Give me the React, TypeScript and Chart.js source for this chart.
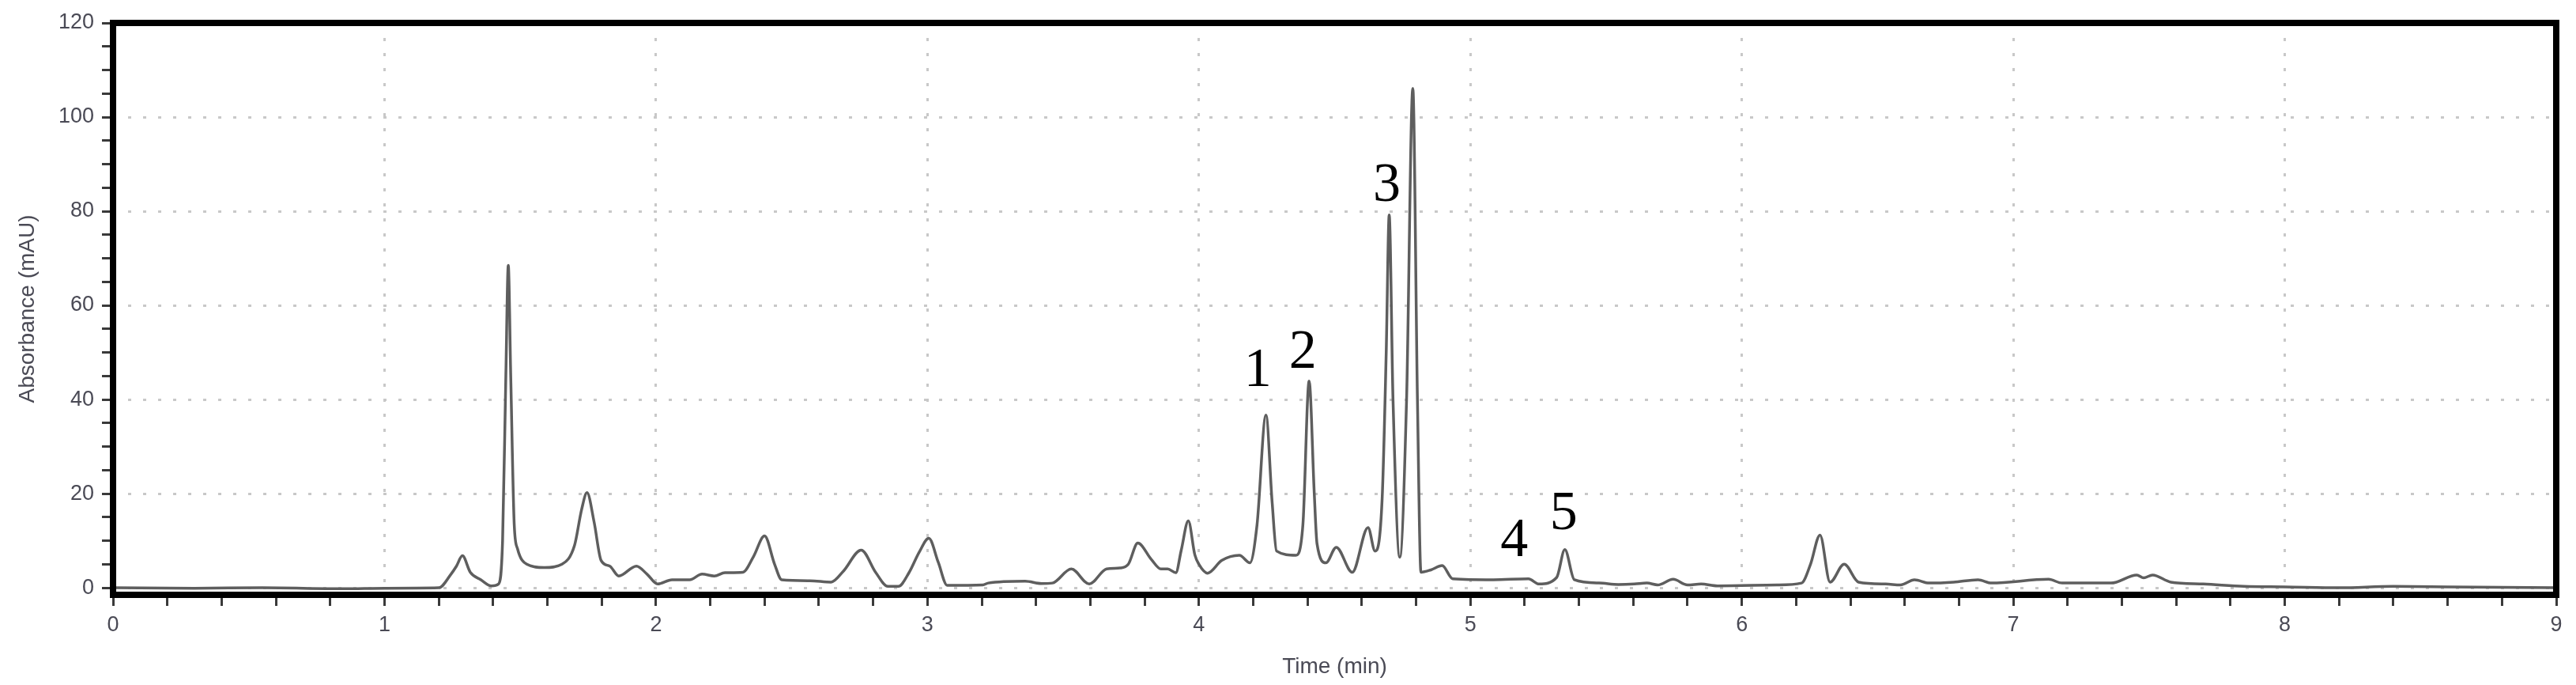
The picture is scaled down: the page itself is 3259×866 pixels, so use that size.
import React, { useEffect, useRef } from "react";
import { Chart, registerables } from "chart.js";

Chart.register(...registerables);

// Retention time (min)
const times = [
  0.0, 0.3, 0.55, 0.85, 1.0, 1.2, 1.245, 1.265, 1.287, 1.316, 1.355, 1.394, 1.42,
  1.435, 1.447, 1.456, 1.465, 1.478, 1.49, 1.524, 1.589, 1.654, 1.7, 1.726, 1.746,
  1.772, 1.798, 1.83, 1.863, 1.928, 1.967, 2.006, 2.059, 2.124, 2.17, 2.215, 2.254,
  2.32, 2.359, 2.4, 2.437, 2.463, 2.567, 2.645, 2.69, 2.756, 2.81, 2.854, 2.893,
  2.932, 2.97, 3.005, 3.04, 3.073, 3.204, 3.224, 3.36, 3.42, 3.46, 3.53, 3.596,
  3.66, 3.71, 3.74, 3.775, 3.825, 3.86, 3.885, 3.915, 3.935, 3.961, 3.985, 4.0,
  4.032, 4.084, 4.149, 4.188, 4.214, 4.247, 4.27, 4.286, 4.357, 4.383, 4.406, 4.425,
  4.435, 4.468, 4.506, 4.565, 4.623, 4.649, 4.675, 4.69, 4.701, 4.715, 4.74, 4.765,
  4.788, 4.805, 4.818, 4.855, 4.896, 4.935, 5.084, 5.214, 5.253, 5.318, 5.348, 5.383,
  5.474, 5.545, 5.604, 5.65, 5.69, 5.747, 5.8, 5.85, 5.91, 6.13, 6.22, 6.253, 6.288,
  6.325, 6.377, 6.43, 6.53, 6.584, 6.636, 6.69, 6.78, 6.87, 6.92, 7.13, 7.18, 7.36,
  7.455, 7.48, 7.513, 7.58, 7.7, 7.85, 8.0, 8.2, 8.4, 8.6, 8.8, 9.0,
];

// Absorbance (mAU)
const absorbance = [
  0.0, -0.1, 0.0, -0.2, -0.1, 0.0, 2.9, 4.6, 6.8, 3.3, 1.7, 0.4, 0.8,
  10, 45, 68.5, 45, 13.3, 8.3, 5.0, 4.3, 5.0, 9.0, 16.6, 20.2,
  14.0, 5.8, 4.6, 2.5, 4.6, 2.9, 0.8, 1.7, 1.7, 2.9, 2.5, 3.2,
  3.3, 6.6, 11.0, 5.0, 1.7, 1.5, 1.2, 3.5, 8.0, 3.2, 0.3, 0.3,
  3.2, 7.6, 10.5, 5.4, 0.5, 0.6, 1.0, 1.4, 0.9, 1.0, 4.0, 0.8,
  4.0, 4.2, 5.0, 9.5, 6.0, 4.0, 4.0, 3.2, 8.0, 14.2, 7.0, 5.0,
  3.1, 5.8, 6.9, 5.3, 13.3, 36.7, 18.0, 7.8, 6.9, 13.3, 43.9, 20.0,
  9.4, 5.3, 8.6, 3.3, 12.8, 7.8, 18.9, 50.0, 79.2, 40.0, 6.5, 40.0,
  106.1, 40.0, 3.3, 3.8, 4.7, 1.9, 1.7, 1.9, 0.8, 2.2, 8.1, 1.7,
  1.0, 0.7, 0.8, 1.0, 0.6, 1.8, 0.6, 0.8, 0.4, 0.6, 1.0, 5.0, 11.2,
  1.2, 5.0, 1.2, 0.8, 0.6, 1.7, 1.0, 1.2, 1.7, 1.0, 1.8, 1.0, 1.0,
  2.7, 2.1, 2.7, 1.2, 0.8, 0.3, 0.2, 0.0, 0.3, 0.2, 0.1, 0.0,
];

// Axis ticks
const xMajorTicks = [0, 1, 2, 3, 4, 5, 6, 7, 8, 9];
const xMinorPerMajor = 5; // ticks every 0.2 min
const yMajorTicks = [0, 20, 40, 60, 80, 100, 120];
const yMinorPerMajor = 4; // ticks every 5 mAU

// Peak labels
const peakLabels = ["1", "2", "3", "4", "5"];
const peakLabelTimes = [4.217, 4.383, 4.692, 5.162, 5.344];
const peakLabelValues = [42.8, 46.7, 82.2, 6.7, 12.5];

const xAxisTitle = "Time (min)";
const yAxisTitle = "Absorbance (mAU)";

function withMinor(majors: number[], per: number): number[] {
  const out: number[] = [];
  for (let i = 0; i < majors.length; i++) {
    out.push(majors[i]);
    if (i < majors.length - 1) {
      const step = (majors[i + 1] - majors[i]) / per;
      for (let k = 1; k < per; k++) out.push(Math.round((majors[i] + k * step) * 1000) / 1000);
    }
  }
  return out;
}

const xTicks = withMinor(xMajorTicks, xMinorPerMajor);
const yTicks = withMinor(yMajorTicks, yMinorPerMajor);
const isMajorX = (v: number) => xMajorTicks.some((m) => Math.abs(m - v) < 1e-6);
const isMajorY = (v: number) => yMajorTicks.some((m) => Math.abs(m - v) < 1e-6);

const framePlugin = {
  id: "frame",
  afterDraw(chart: any) {
    const { ctx, chartArea } = chart;
    ctx.save();
    ctx.strokeStyle = "#000";
    ctx.lineWidth = 8;
    ctx.strokeRect(chartArea.left, chartArea.top, chartArea.right - chartArea.left, chartArea.bottom - chartArea.top);
    ctx.restore();
  },
};

const peakLabelPlugin = {
  id: "peakLabels",
  afterDatasetsDraw(chart: any) {
    const { ctx, scales } = chart;
    ctx.save();
    ctx.fillStyle = "#000";
    ctx.font = '70px "Liberation Serif", "Times New Roman", serif';
    ctx.textAlign = "center";
    ctx.textBaseline = "alphabetic";
    peakLabels.forEach((label, i) => {
      const x = scales.x.getPixelForValue(peakLabelTimes[i]);
      const y = scales.y.getPixelForValue(peakLabelValues[i]);
      ctx.fillText(label, x, y);
    });
    ctx.restore();
  },
};

export default function App() {
  const canvasRef = useRef<HTMLCanvasElement | null>(null);

  useEffect(() => {
    if (!canvasRef.current) return;
    const points = times.map((t, i) => ({ x: t, y: absorbance[i] }));
    const tickFont = { family: '"Liberation Sans", Arial, sans-serif', size: 27 };
    const chart = new Chart(canvasRef.current, {
      type: "line",
      data: {
        datasets: [
          {
            data: points,
            borderColor: "#5e5e5e",
            borderWidth: 3.5,
            pointRadius: 0,
            cubicInterpolationMode: "monotone",
            fill: false,
          },
        ],
      },
      options: {
        animation: false,
        responsive: true,
        maintainAspectRatio: false,
        layout: { padding: { left: 0, right: 25, top: 29, bottom: 0 } },
        plugins: { legend: { display: false }, tooltip: { enabled: false } },
        scales: {
          x: {
            type: "linear",
            min: 0,
            max: 9,
            afterBuildTicks: (scale: any) => {
              scale.ticks = xTicks.map((v) => ({ value: v }));
            },
            afterFit: (scale: any) => {
              scale.height = 114;
            },
            ticks: {
              autoSkip: false,
              maxRotation: 0,
              padding: 8,
              color: "#4a4a55",
              font: tickFont,
              callback: (v: any) => (isMajorX(Number(v)) ? String(Math.round(Number(v))) : ""),
            },
            grid: {
              color: (ctx: any) => (ctx.tick && isMajorX(ctx.tick.value) ? "#c8c8c8" : "rgba(0,0,0,0)"),
              lineWidth: 3,
              drawTicks: true,
              tickLength: 14,
              tickWidth: 3,
              tickColor: "#3a3a3a",
              tickBorderDash: [],
            },
            border: { display: false, dash: [4, 15] },
            title: {
              display: true,
              text: xAxisTitle,
              color: "#4a4a55",
              font: { family: '"Liberation Sans", Arial, sans-serif', size: 28 },
              padding: { top: 0, bottom: 6 },
            },
          },
          y: {
            type: "linear",
            min: -1.5,
            max: 120,
            afterBuildTicks: (scale: any) => {
              scale.ticks = yTicks.map((v) => ({ value: v }));
            },
            afterFit: (scale: any) => {
              scale.width = 143;
            },
            ticks: {
              autoSkip: false,
              padding: 10,
              color: "#4a4a55",
              font: tickFont,
              callback: (v: any) => (isMajorY(Number(v)) ? String(Math.round(Number(v))) : ""),
            },
            grid: {
              color: (ctx: any) => (ctx.tick && isMajorY(ctx.tick.value) ? "#c8c8c8" : "rgba(0,0,0,0)"),
              lineWidth: 3,
              drawTicks: true,
              tickLength: 14,
              tickWidth: 3,
              tickColor: "#3a3a3a",
              tickBorderDash: [],
            },
            border: { display: false, dash: [4, 15] },
            title: {
              display: true,
              text: yAxisTitle,
              color: "#4a4a55",
              font: { family: '"Liberation Sans", Arial, sans-serif', size: 28 },
              padding: { top: 18, bottom: 0 },
            },
          },
        },
      },
      plugins: [framePlugin, peakLabelPlugin],
    } as any);
    return () => chart.destroy();
  }, []);

  return (
    <div style={{ position: "fixed", left: 0, top: 0, width: "3259px", height: "866px", background: "#fff" }}>
      <canvas ref={canvasRef} />
    </div>
  );
}
